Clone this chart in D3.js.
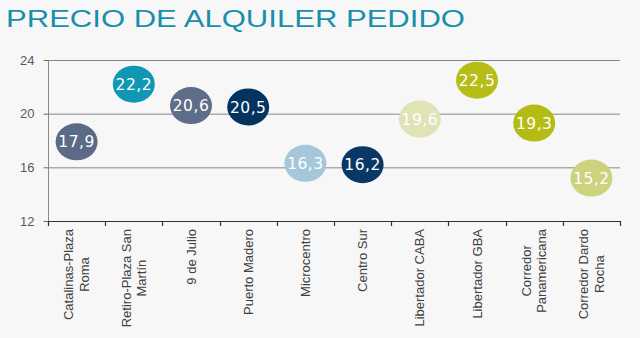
<!DOCTYPE html>
<html>
<head>
<meta charset="utf-8">
<script src="https://cdn.jsdelivr.net/npm/d3@7"></script>
<style>
  html, body { margin: 0; padding: 0; background: #f7f7f7; }
  svg { display: block; }
</style>
</head>
<body>
<svg id="chart" width="640" height="338"></svg>
<script>
const categories = [
  ["Catalinas-Plaza", "Roma"],
  ["Retiro-Plaza San", "Martín"],
  ["9 de Julio"],
  ["Puerto Madero"],
  ["Microcentro"],
  ["Centro Sur"],
  ["Libertador CABA"],
  ["Libertador GBA"],
  ["Corredor", "Panamericana"],
  ["Corredor Dardo", "Rocha"]
];
const values = [17.9, 22.2, 20.6, 20.5, 16.3, 16.2, 19.6, 22.5, 19.3, 15.2];
const valueLabels = ["17,9", "22,2", "20,6", "20,5", "16,3", "16,2", "19,6", "22,5", "19,3", "15,2"];
const colors = ["#5b6a87", "#0f97b3", "#5f6d88", "#03335f", "#a4c8d9", "#0a3866", "#dfe3b6", "#b6bd16", "#b4bb13", "#cdd27d"];
const yTicks = [12, 16, 20, 24];
const title = "PRECIO DE ALQUILER PEDIDO";

(function () {
const svg = d3.select("#chart");
const mLeft = 48, mRight = 620, mTop = 60, mBottom = 221;
const sansFont = "'Liberation Sans', Arial, sans-serif";

svg.append("rect").attr("width", 640).attr("height", 338).attr("fill", "#f7f7f7");

svg.append("text")
  .attr("x", 6).attr("y", 27)
  .style("font-family", sansFont)
  .attr("font-size", 24)
  .attr("fill", "#1a8fac")
  .attr("textLength", 459)
  .attr("lengthAdjust", "spacingAndGlyphs")
  .text(title);

const x = d3.scaleBand().domain(d3.range(categories.length)).range([mLeft, mRight]).padding(0);
const y = d3.scaleLinear().domain([12, 24]).range([mBottom, mTop]);

// gridlines
svg.append("g").selectAll("line")
  .data(yTicks.filter(t => t > 12))
  .join("line")
  .attr("x1", mLeft).attr("x2", mRight)
  .attr("y1", d => y(d) + 0.5).attr("y2", d => y(d) + 0.5)
  .attr("stroke", "#868686").attr("stroke-width", 1);

// y axis
const yAxis = d3.axisLeft(y).tickValues(yTicks).tickSize(5).tickPadding(9);
const gy = svg.append("g").attr("transform", `translate(${mLeft + 0.5},0)`).call(yAxis);
gy.attr("font-family", null);
gy.select(".domain").attr("stroke", "#8a8a8a").attr("d", `M0,${mTop}V${mBottom + 3}`);
gy.selectAll(".tick line").attr("stroke", "#6a6a6a");
gy.selectAll(".tick text")
  .style("font-family", sansFont)
  .attr("font-size", 13)
  .attr("fill", "#595959");

// x axis line + ticks at category boundaries
const boundaries = d3.range(categories.length + 1).map(i => i < categories.length ? x(i) : mRight);
svg.append("line")
  .attr("x1", mLeft).attr("x2", mRight)
  .attr("y1", mBottom + 0.5).attr("y2", mBottom + 0.5)
  .attr("stroke", "#333").attr("stroke-width", 1.2);
svg.append("g").selectAll("line")
  .data(boundaries)
  .join("line")
  .attr("x1", d => Math.round(d) + 0.5).attr("x2", d => Math.round(d) + 0.5)
  .attr("y1", mBottom).attr("y2", mBottom + 5)
  .attr("stroke", "#333").attr("stroke-width", 1.2);

// category labels, rotated
const lh = 15.5;
const labelG = svg.append("g").selectAll("g")
  .data(categories)
  .join("g")
  .attr("transform", (d, i) => `translate(${x(i) + x.bandwidth() / 2},229) rotate(-90)`);
labelG.each(function (lines) {
  const g = d3.select(this);
  const n = lines.length;
  const texts = lines.map((line, k) => g.append("text")
    .attr("y", (k - (n - 1) / 2) * lh)
    .attr("dy", "0.35em")
    .attr("text-anchor", "middle")
    .style("font-family", sansFont)
    .attr("font-size", 13)
    .attr("fill", "#404040")
    .text(line));
  const maxW = d3.max(texts, t => t.node().getComputedTextLength());
  texts.forEach(t => t.attr("x", -maxW / 2));
});

// bubbles
const pts = svg.append("g").selectAll("g")
  .data(values)
  .join("g")
  .attr("transform", (d, i) => `translate(${x(i) + x.bandwidth() / 2},${y(d)})`);
pts.append("ellipse")
  .attr("rx", 21).attr("ry", 18.5)
  .attr("fill", (d, i) => colors[i]);
pts.append("text")
  .attr("text-anchor", "middle")
  .attr("dy", "0.36em")
  .style("font-family", "'DejaVu Sans', sans-serif")
  .attr("font-size", 15.5)
  .attr("letter-spacing", 0.5)
  .attr("fill", "#ffffff")
  .text((d, i) => valueLabels[i]);
})();
</script>
</body>
</html>
